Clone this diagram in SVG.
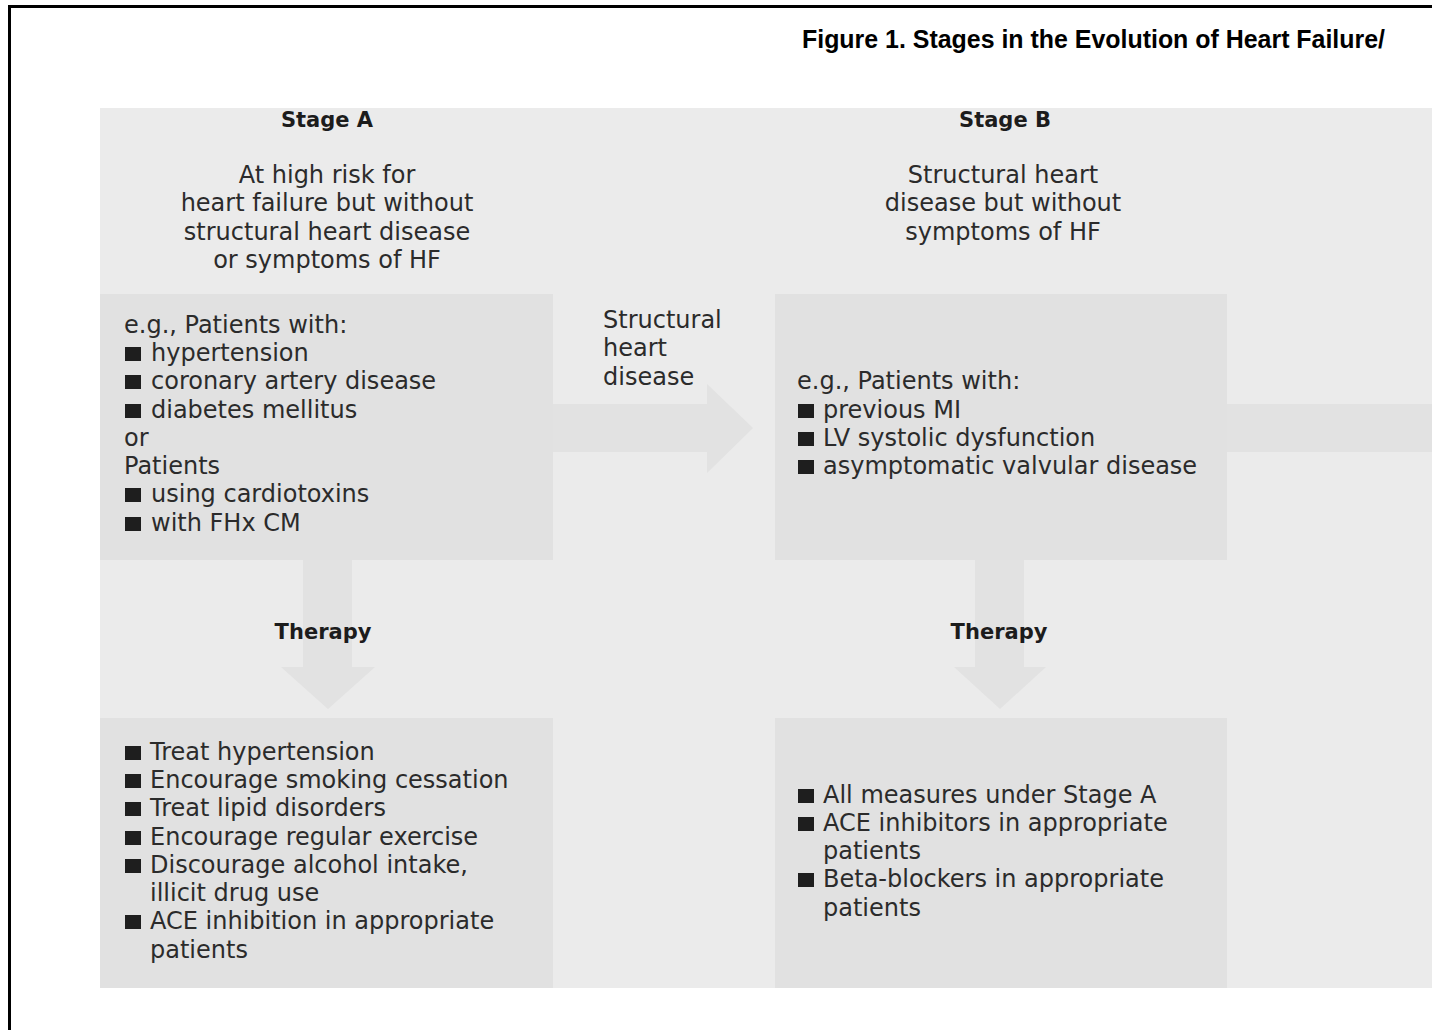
<svg xmlns="http://www.w3.org/2000/svg" width="1432" height="1030" viewBox="0 0 1432 1030">
<style>
.t{font-family:"DejaVu Sans","Liberation Sans",sans-serif;font-size:24px;fill:#2b2b2b}
.h{font-family:"DejaVu Sans","Liberation Sans",sans-serif;font-size:21px;font-weight:bold;fill:#1c1c1c;text-anchor:middle}
.c{text-anchor:middle}
.box{fill:#e1e1e1}
.arr{fill:#e2e2e2}
.b{fill:#1e1e1e}
</style>
<defs>
<rect id="bul" width="16" height="14" class="b"/>
</defs>
<rect x="9.5" y="6.5" width="1440" height="1040" fill="#ffffff" stroke="#000" stroke-width="3"/>
<text x="1385" y="48" text-anchor="end" font-family="Liberation Sans,Arial,sans-serif" font-size="25" font-weight="bold" fill="#000" textLength="583" lengthAdjust="spacingAndGlyphs">Figure 1. Stages in the Evolution of Heart Failure/</text>
<rect x="100" y="108" width="1332" height="880" fill="#ebebeb"/>

<g id="connectors">
<polygon class="arr" points="553,404 707,404 707,384 753,428 707,473 707,452 553,452"/>
<polygon class="arr" points="1227,404 1432,404 1432,452 1227,452"/>
<polygon class="arr" points="303,560 352,560 352,667 375,667 328,709 281,667 303,667"/>
<polygon class="arr" points="975,560 1024,560 1024,667 1046,667 1000,709 954,667 975,667"/>
</g>

<g id="stageA">
<text class="h" x="327" y="127">Stage A</text>
<text class="t c" x="327" y="183">At high risk for</text>
<text class="t c" x="327" y="211">heart failure but without</text>
<text class="t c" x="327" y="240">structural heart disease</text>
<text class="t c" x="327" y="268">or symptoms of HF</text>
</g>

<g id="stageA-patients">
<rect class="box" x="100" y="294" width="453" height="266"/>
<text class="t" x="124" y="333">e.g., Patients with:</text>
<use href="#bul" x="125" y="347"/><text class="t" x="151" y="361">hypertension</text>
<use href="#bul" x="125" y="375"/><text class="t" x="151" y="389">coronary artery disease</text>
<use href="#bul" x="125" y="404"/><text class="t" x="151" y="418">diabetes mellitus</text>
<text class="t" x="124" y="446">or</text>
<text class="t" x="124" y="474">Patients</text>
<use href="#bul" x="125" y="488"/><text class="t" x="151" y="502">using cardiotoxins</text>
<use href="#bul" x="125" y="517"/><text class="t" x="151" y="531">with FHx CM</text>
</g>

<g id="structural-label">
<text class="t" x="603" y="328">Structural</text>
<text class="t" x="603" y="356">heart</text>
<text class="t" x="603" y="385">disease</text>
</g>

<g id="stageB">
<text class="h" x="1005" y="127">Stage B</text>
<text class="t c" x="1003" y="183">Structural heart</text>
<text class="t c" x="1003" y="211">disease but without</text>
<text class="t c" x="1003" y="240">symptoms of HF</text>
</g>

<g id="stageB-patients">
<rect class="box" x="775" y="294" width="452" height="266"/>
<text class="t" x="797" y="389">e.g., Patients with:</text>
<use href="#bul" x="798" y="404"/><text class="t" x="823" y="418">previous MI</text>
<use href="#bul" x="798" y="432"/><text class="t" x="823" y="446">LV systolic dysfunction</text>
<use href="#bul" x="798" y="460"/><text class="t" x="823" y="474">asymptomatic valvular disease</text>
</g>

<g id="therapyA-label"><text class="h" x="323" y="639">Therapy</text></g>
<g id="therapyB-label"><text class="h" x="999" y="639">Therapy</text></g>

<g id="therapyA">
<rect class="box" x="100" y="718" width="453" height="270"/>
<use href="#bul" x="125" y="746"/><text class="t" x="150" y="760">Treat hypertension</text>
<use href="#bul" x="125" y="774"/><text class="t" x="150" y="788">Encourage smoking cessation</text>
<use href="#bul" x="125" y="802"/><text class="t" x="150" y="816">Treat lipid disorders</text>
<use href="#bul" x="125" y="831"/><text class="t" x="150" y="845">Encourage regular exercise</text>
<use href="#bul" x="125" y="859"/><text class="t" x="150" y="873">Discourage alcohol intake,</text>
<text class="t" x="150" y="901">illicit drug use</text>
<use href="#bul" x="125" y="915"/><text class="t" x="150" y="929">ACE inhibition in appropriate</text>
<text class="t" x="150" y="958">patients</text>
</g>

<g id="therapyB">
<rect class="box" x="775" y="718" width="452" height="270"/>
<use href="#bul" x="798" y="789"/><text class="t" x="823" y="803">All measures under Stage A</text>
<use href="#bul" x="798" y="817"/><text class="t" x="823" y="831">ACE inhibitors in appropriate</text>
<text class="t" x="823" y="859">patients</text>
<use href="#bul" x="798" y="873"/><text class="t" x="823" y="887">Beta-blockers in appropriate</text>
<text class="t" x="823" y="916">patients</text>
</g>
</svg>
